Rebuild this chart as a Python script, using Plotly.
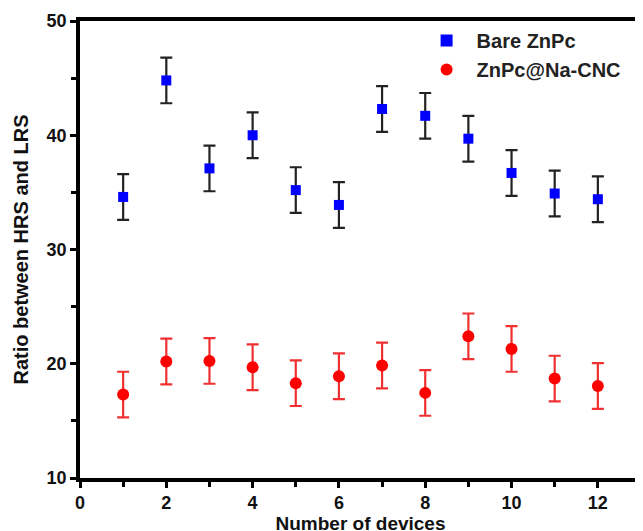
import plotly.graph_objects as go

devices = list(range(1, 13))
bare_znpc = [34.6, 44.8, 37.1, 40.0, 35.2, 33.9, 42.3, 41.7, 39.7, 36.7, 34.9, 34.4]
bare_err = [2.0, 2.0, 2.0, 2.0, 2.0, 2.0, 2.0, 2.0, 2.0, 2.0, 2.0, 2.0]
znpc_na = [17.3, 20.2, 20.25, 19.7, 18.3, 18.9, 19.85, 17.45, 22.4, 21.3, 18.7, 18.05]
znpc_err = [2.0, 2.0, 2.0, 2.0, 2.0, 2.0, 2.0, 2.0, 2.0, 2.0, 2.0, 2.0]
x_ticks = [0, 2, 4, 6, 8, 10, 12]
y_ticks = [10, 20, 30, 40, 50]

FONT = "Arial, Liberation Sans, sans-serif"

fig = go.Figure()
fig.add_trace(go.Scatter(
    x=devices, y=bare_znpc, mode="markers", name="Bare ZnPc",
    marker=dict(symbol="square", size=10, color="#0000FF"),
    error_y=dict(type="data", array=bare_err, color="#222222", thickness=2.2, width=6),
))
fig.add_trace(go.Scatter(
    x=devices, y=znpc_na, mode="markers", name="ZnPc@Na-CNC",
    marker=dict(symbol="circle", size=12, color="#FF0000"),
    error_y=dict(type="data", array=znpc_err, color="#F03030", thickness=2.2, width=6),
))

axis_common = dict(
    showline=True, linecolor="black", linewidth=3.5, mirror=True,
    ticks="outside", ticklen=6, tickwidth=3, tickcolor="black",
    showgrid=False, zeroline=False, automargin=False,
    tickfont=dict(family=FONT, size=18, color="#111111", weight="bold"),
)

fig.update_xaxes(
    range=[0, 13], tickvals=x_ticks, ticktext=[str(v) for v in x_ticks],
    title=dict(text="Number of devices", font=dict(family=FONT, size=19, color="#111111", weight="bold"), standoff=0),
    minor=dict(ticks="outside", dtick=1, tick0=0, ticklen=5, tickwidth=3, tickcolor="black"),
    **axis_common,
)
fig.update_yaxes(
    range=[10, 50], tickvals=y_ticks, ticktext=[str(v) for v in y_ticks],
    title=dict(text="Ratio between HRS and LRS", font=dict(family=FONT, size=20, color="#111111", weight="bold"), standoff=14),
    minor=dict(ticks="outside", dtick=5, tick0=10, ticklen=5, tickwidth=3, tickcolor="black"),
    **axis_common,
)

fig.update_layout(
    width=643, height=531,
    margin=dict(l=72, r=10, t=13, b=61),
    plot_bgcolor="white", paper_bgcolor="white",
    showlegend=True,
    legend=dict(
        x=0.60, y=1.0, xanchor="left", yanchor="top",
        bgcolor="rgba(0,0,0,0)", borderwidth=0,
        font=dict(family=FONT, size=20, color="#222222", weight="bold"),
        itemsizing="constant", tracegroupgap=0, itemwidth=50,
    ),
)

fig.write_html("out.html")
